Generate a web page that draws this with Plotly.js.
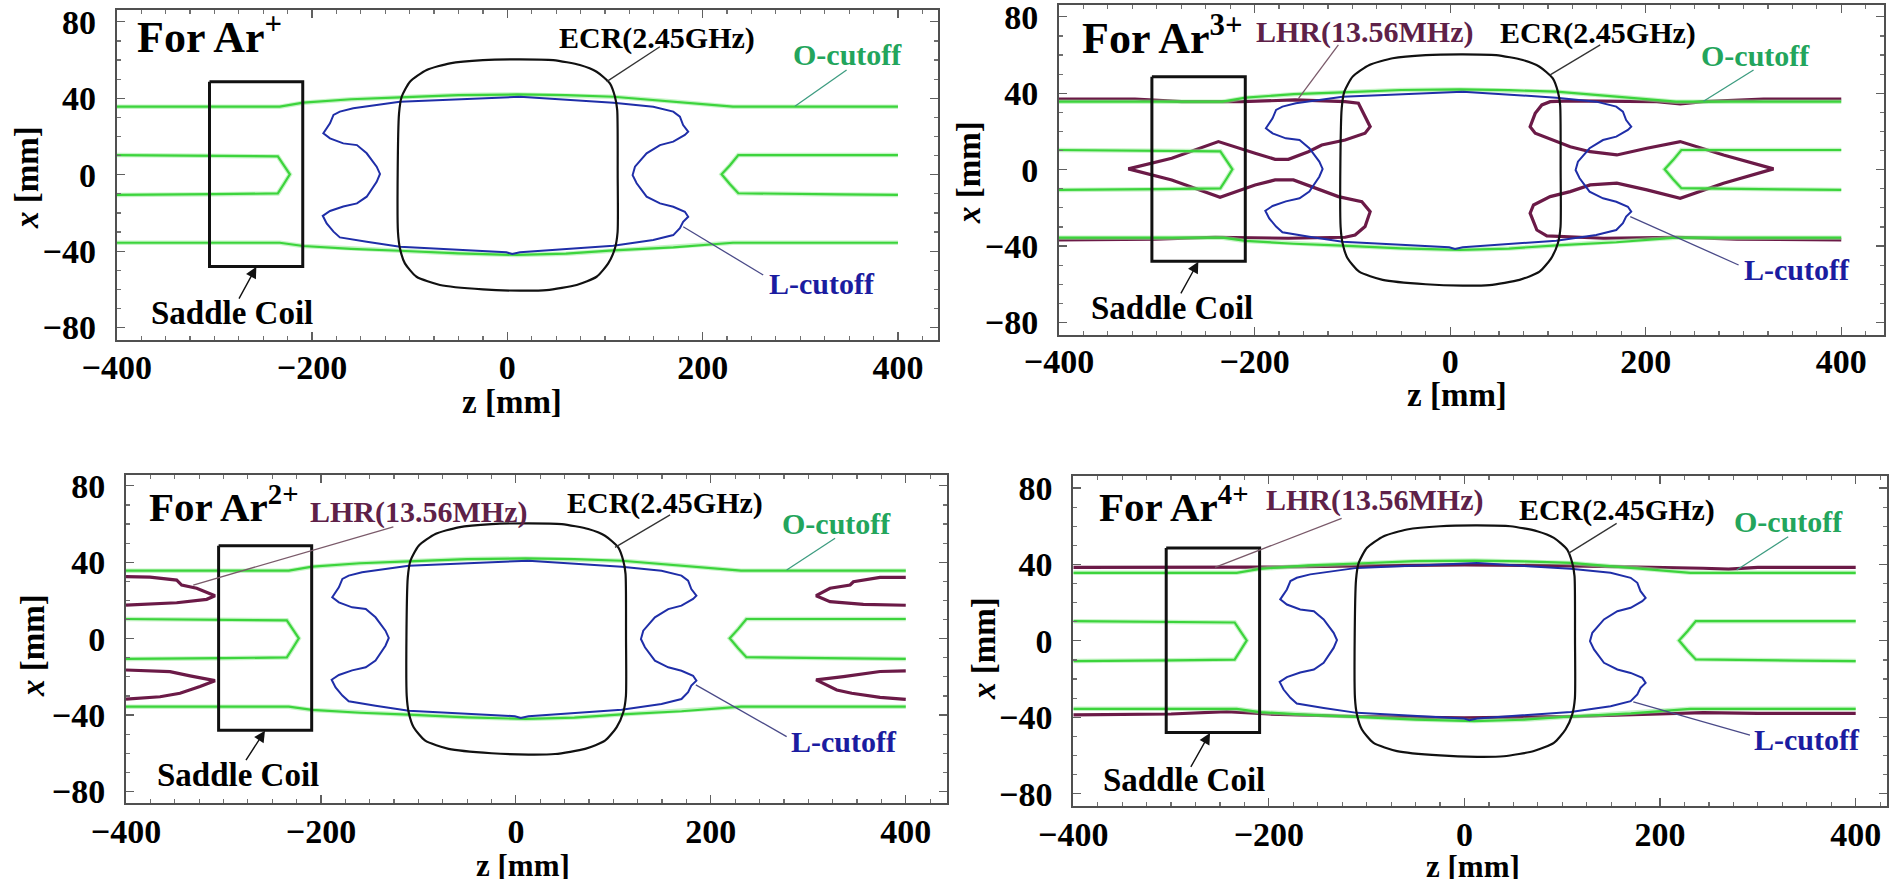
<!DOCTYPE html>
<html>
<head>
<meta charset="utf-8">
<script src="https://cdn.plot.ly/plotly-3.0.1.min.js"></script>
<style>
  html, body { margin: 0; padding: 0; background: #ffffff; }
  #chart { width: 1890px; height: 879px; }
</style>
</head>
<body>
<div id="chart"></div>
<script>
// ---------- tick values ----------
const zTickVals = [-400, -200, 0, 200, 400];
const xTickVals = [-80, -40, 0, 40, 80];

// ---------- ECR (2.45 GHz) resonance contour, z / x in mm ----------
const ecrZ = [12.9, 47, 74.3, 91.4, 105, 110.2, 112.5, 113, 112.9, 110.2, 103.3, 91.4, 71, 40.2, 12.9,
              -25, -69, -93, -104.9, -110, -112, -112.3, -110.9, -108.2, -99.7, -82.6, -58.8, -25, 12.9];
const ecrX = [60.4, 60, 57.4, 53.9, 47.8, 40.8, 33.9, 0, -30, -38.5, -46.4, -53.4, -57.7, -60.4, -60.7,
              -60, -57.7, -53.4, -46.4, -38.5, -30, 0, 32.1, 40.8, 48.7, 54.8, 58.3, 60, 60.4];

// ---------- L-cutoff contour ----------
const lCutZ = [12.9, 108.5, 149.4, 169.9, 176.7, 180, 185.2, 181.8, 169.9, 156.3, 142.6, 130.7, 128.3, 132.4,
               142.6, 156.3, 169.9, 181.8, 185.2, 180, 176.7, 169.9, 149.4, 108.5, 12.9, 5, -1, -110, -144,
               -171.5, -178, -185, -189, -181.6, -168, -154, -144, -133.8, -130.4, -133.8, -144, -154, -168,
               -181.6, -188.4, -181.6, -178, -171.5, -157.8, -110, 12.9];
const lCutX = [40.8, 37.7, 35.6, 33, 30.4, 26, 22.5, 20.8, 17.3, 15.5, 11.2, 4.2, -0.2, -4.5,
               -11.5, -15, -16.8, -19.4, -22, -24.6, -28, -31.6, -34.2, -37.2, -40.6, -41.5, -40.6, -37.7, -35.1,
               -32.8, -29.8, -25.5, -21.5, -19, -16.6, -15, -11.5, -3.7, 0.4, 4.2, 11.2, 15.5, 16.4,
               19, 21.7, 26.9, 31.3, 33, 34.8, 38.2, 40.8];

// ---------- O-cutoff contours ----------
const oCutOuterZ      = [-400, -233, -209, -160, -110, -50, 10, 60, 108.5, 170, 231, 400];
const oCutUpperX      = [35.6, 35.6, 37.7, 39.5, 40.5, 41.7, 42.0, 41.6, 40.8, 38.3, 35.6, 35.6];
const oCutLowerX      = [-35.6, -35.6, -37.3, -38.8, -39.8, -41.2, -42.0, -41.3, -39.6, -38.0, -35.6, -35.6];
const oCutInnerLeftZ  = [-400, -300, -235, -229, -222.7, -229, -235, -300, -400];
const oCutInnerLeftX  = [10.3, 10.0, 9.6, 5, 0.2, -5, -9.8, -10.2, -10.6];
const oCutInnerRightZ = [400, 340, 236.5, 228, 219.4, 228, 236.5, 340, 400];
const oCutInnerRightX = [10.3, 10.3, 10.3, 5, 0.2, -5, -9.7, -10.3, -10.6];

// ---------- saddle coil outline ----------
const coilZ = [-305, -209.5, -209.5, -305, -305];
const coilX = [48.6, 48.6, -48, -48, 48.6];

// ---------- LHR (13.56 MHz) contours ----------
// Ar2+ : four lobes near the ends
const lhrAr2UpLeftZ  = [-400, -375.4, -348, -342.9, -327.5, -308.7, -317.2, -348, -400];
const lhrAr2UpLeftX  = [32.5, 32.2, 30.7, 28.1, 26.4, 22.5, 20.6, 18.8, 17.6];
const lhrAr2LoLeftZ  = [-400, -354.9, -334.3, -308.7, -324.1, -344.6, -365.1, -400];
const lhrAr2LoLeftX  = [-16.4, -17.3, -19.5, -22.0, -25.1, -28.6, -30.4, -31.7];
const lhrAr2UpRightZ = [400, 373.6, 346.3, 342.9, 322.3, 308, 322.3, 356.5, 400];
const lhrAr2UpRightX = [32.1, 32.1, 29.8, 28.1, 26.4, 22.5, 19.4, 18.0, 17.5];
const lhrAr2LoRightZ = [400, 373.6, 336, 308, 329.2, 344.6, 373.6, 400];
const lhrAr2LoRightX = [-16.9, -17.2, -19.9, -21.6, -26.9, -28.6, -30.7, -31.8];

// Ar3+ : two contours, one on each side of the resonance zone
const lhrAr3LeftZ = [-400, -322.3, -274.5, -213.1, -158.6, -107.4, -93.8, -88.7, -81.8, -87, -107.4, -131.3,
                     -145, -165.4, -179, -199.5, -237, -284.7, -329.1, -284.7, -235.3, -199.5, -179, -160.3,
                     -138.1, -114.3, -90.3, -81.8, -87, -97.2, -107.4, -165.4, -240.4, -301.8, -400];
const lhrAr3LeftX = [37.0, 37.0, 35.6, 35.6, 36.5, 35.6, 34.8, 29.5, 22.5, 19.1, 15.5, 12.9,
                     9.4, 5.4, 5.4, 8.6, 14.7, 6.0, 0.4, -5.4, -14.5, -8.0, -5.4, -5.4,
                     -9.7, -14.1, -16.8, -22, -29.8, -34.2, -35.4, -35.9, -35.4, -36.4, -36.8];
const lhrAr3RightZ = [400, 320.5, 259.1, 235.3, 211.4, 122.8, 102.3, 93.8, 87, 81.8, 87, 105.7, 122.8,
                      143.2, 170.5, 201.2, 235.3, 279.6, 330.7, 279.6, 235.3, 201.2, 170.5, 143.2, 122.8,
                      102.3, 85.3, 81.8, 88.7, 98.9, 156.8, 231.9, 293.3, 400];
const lhrAr3RightX = [37.0, 37.0, 35.6, 34.4, 35.6, 36.0, 35.6, 33.9, 29.5, 22.5, 19.1, 15.5, 12.0,
                      9.4, 7.7, 11.2, 14.7, 7.7, 0.4, -7.1, -15.0, -10.6, -7.1, -8.0, -11.5,
                      -14.1, -18.5, -22.8, -31.6, -34.7, -35.9, -35.4, -36.4, -36.8];

// Ar4+ : two nearly flat lines along the edge of the plasma
const lhrAr4UpperZ = [-400, -300, -200, -110, 0, 110, 200, 244, 270, 300, 400];
const lhrAr4UpperX = [38.5, 38.5, 38.6, 39.2, 39.8, 39.2, 38.6, 38.0, 37.6, 38.5, 38.5];
const lhrAr4LowerZ = [-400, -300, -243, -200, -110, 0, 110, 200, 244, 300, 400];
const lhrAr4LowerX = [-38.8, -38.3, -37.1, -38.3, -39.6, -40.3, -39.6, -38.3, -37.6, -38.0, -38.0];

// ---------- panel titles ----------
const panelTitles = ['For Ar<sup>+</sup>', 'For Ar<sup>3+</sup>', 'For Ar<sup>2+</sup>', 'For Ar<sup>4+</sup>'];

// join several pieces into one trace, separated by gaps
function joinPieces(pieces) {
  const out = [];
  pieces.forEach((p, i) => { if (i) out.push(null); out.push(...p); });
  return out;
}

const SERIF = "'Liberation Serif', 'Times New Roman', Times, serif";
const C = {
  o: '#3cd43c', oText: '#23a55c', oLead: '#3d9c80',
  l: '#1f2ea8', lText: '#1b1ca0', lLead: '#4a4a88',
  lhr: '#6b1a47', lhrText: '#5e2148', lhrLead: '#7a5a6a',
  ecr: '#111111', ecrLead: '#333333'
};

const lhrSets = [
  null,
  { z: joinPieces([lhrAr3LeftZ, lhrAr3RightZ]), x: joinPieces([lhrAr3LeftX, lhrAr3RightX]) },
  { z: joinPieces([lhrAr2UpLeftZ, lhrAr2LoLeftZ, lhrAr2UpRightZ, lhrAr2LoRightZ]),
    x: joinPieces([lhrAr2UpLeftX, lhrAr2LoLeftX, lhrAr2UpRightX, lhrAr2LoRightX]) },
  { z: joinPieces([lhrAr4UpperZ, lhrAr4LowerZ]), x: joinPieces([lhrAr4UpperX, lhrAr4LowerX]) }
];

// subplot frames (paper fractions), axis ranges, label offsets and title sizes
const frames = [
  { xd: [0.06175, 0.49630], yd: [0.61320, 0.98862], xr: [-400, 441], yr: [-86.5, 86.2], zStand: -4, titleSize: 44, zTitleSize: 33 },
  { xd: [0.56032, 0.99698], yd: [0.61945, 0.99431], xr: [-400, 444], yr: [-86.3, 86.2], zStand: -4, titleSize: 44, zTitleSize: 33 },
  { xd: [0.06667, 0.50090], yd: [0.08612, 0.45961], xr: [-400, 442], yr: [-86.2, 85.7], zStand: -3, titleSize: 41, zTitleSize: 31 },
  { xd: [0.56788, 0.99841], yd: [0.08339, 0.45848], xr: [-400, 432], yr: [-86.3, 86.3], zStand: -3, titleSize: 41, zTitleSize: 31 }
];

// label placement inside each panel (data coordinates)
const labelPos = [
  { title: [-381, 73.5], ecr: [152.9, 71.8], ecrL: [156.2, 67, 101.7, 48.7],
    o: [348.5, 62.7], oL: [347.4, 54.8, 294.5, 35.8], l: [321.8, -56.9], lL: [262, -52.5, 180.1, -27.2],
    coil: [-282, -72.6], coilA: [-275.6, -65.6, -257, -48.2], lhr: null, lhrL: null },
  { title: [-378.5, 70], ecr: [151.7, 71.4], ecrL: [153.5, 65.3, 102.3, 49.6],
    o: [312, 60], oL: [310.3, 52.2, 259.1, 35.8], l: [354.6, -52.5], lL: [295, -49.9, 184.2, -24.6],
    coil: [-284.4, -72.6], coilA: [-276.2, -65.6, -257.5, -48.2], lhr: [-88, 72.3], lhrL: [-114.3, 65.3, -155.2, 37.2] },
  { title: [-378.8, 70.5], ecr: [153, 70.9], ecrL: [158.2, 64.8, 101.7, 47.8],
    o: [329.2, 60.4], oL: [327.5, 52.6, 277.8, 36.0], l: [337, -53.9], lL: [277.8, -51.3, 184.6, -24.2],
    coil: [-284.8, -71.4], coilA: [-277.9, -64.4, -257.4, -48.2], lhr: [-100, 66.5], lhrL: [-125.7, 58.6, -331, 28.1] },
  { title: [-376, 71.6], ecr: [156.4, 68.5], ecrL: [155.6, 61.5, 106.2, 45.8],
    o: [331, 62.4], oL: [331, 54.5, 278.3, 37.1], l: [350.7, -51.9], lL: [291.9, -49.3, 172.6, -31.9],
    coil: [-286.6, -72.9], coilA: [-280.7, -66.8, -260.2, -48.2], lhr: [-92.5, 73.7], lhrL: [-125.6, 64.1, -255.1, 38.5] }
];

// axis-title positions (paper fractions)
const zTitlePos = [[0.2709, 0.5427], [0.7709, 0.5506], [0.2767, 0.0150], [0.7794, 0.0140]];
const xTitlePos = [[0.01429, 0.7975], [0.5127, 0.8032], [0.01746, 0.2662], [0.5206, 0.2628]];

const traces = [];
const shapes = [];
const annotations = [];
const layout = {
  width: 1890, height: 879,
  margin: { l: 0, r: 0, t: 0, b: 0 },
  paper_bgcolor: '#ffffff', plot_bgcolor: '#ffffff',
  showlegend: false,
  font: { family: SERIF, color: '#000' }
};

const tickFont = { family: SERIF, size: 34, color: '#000', weight: 'bold' };

frames.forEach((f, i) => {
  const n = i === 0 ? '' : String(i + 1);
  const xa = 'x' + n, ya = 'y' + n;
  const common = {
    showline: true, mirror: 'allticks', linecolor: '#505050', linewidth: 2,
    ticks: 'inside', ticklen: 8, tickwidth: 1.2, tickcolor: '#606060',
    showgrid: false, zeroline: false, tickfont: tickFont, fixedrange: true,
    ticklabeloverflow: 'allow'
  };
  layout['xaxis' + n] = Object.assign({}, common, {
    domain: f.xd, range: f.xr, anchor: ya, tickmode: 'array', tickvals: zTickVals,
    ticklabelstandoff: f.zStand,
    minor: { dtick: 25, ticks: 'inside', ticklen: 4, tickcolor: '#707070', showgrid: false }
  });
  layout['yaxis' + n] = Object.assign({}, common, {
    domain: f.yd, range: f.yr, anchor: xa, tickmode: 'array', tickvals: xTickVals,
    ticklabelstandoff: 12,
    minor: { dtick: 10, ticks: 'inside', ticklen: 4, tickcolor: '#707070', showgrid: false }
  });

  // LHR contour (not present for Ar+)
  if (lhrSets[i]) {
    traces.push({ type: 'scatter', mode: 'lines', xaxis: xa, yaxis: ya, hoverinfo: 'skip',
      x: lhrSets[i].z, y: lhrSets[i].x, connectgaps: false,
      line: { color: C.lhr, width: 3.2 } });
  }
  // O-cutoff: soft halo under a bright core
  const oZ = joinPieces([oCutOuterZ, oCutOuterZ, oCutInnerLeftZ, oCutInnerRightZ]);
  const oX = joinPieces([oCutUpperX, oCutLowerX, oCutInnerLeftX, oCutInnerRightX]);
  traces.push({ type: 'scatter', mode: 'lines', xaxis: xa, yaxis: ya, hoverinfo: 'skip',
    x: oZ, y: oX, connectgaps: false, line: { color: 'rgba(150,235,150,0.55)', width: 4.5 } });
  traces.push({ type: 'scatter', mode: 'lines', xaxis: xa, yaxis: ya, hoverinfo: 'skip',
    x: oZ, y: oX, connectgaps: false, line: { color: C.o, width: 2.2 } });
  // L-cutoff
  traces.push({ type: 'scatter', mode: 'lines', xaxis: xa, yaxis: ya, hoverinfo: 'skip',
    x: lCutZ, y: lCutX, line: { color: C.l, width: 2 } });
  // ECR
  traces.push({ type: 'scatter', mode: 'lines', xaxis: xa, yaxis: ya, hoverinfo: 'skip',
    x: ecrZ, y: ecrX, line: { color: C.ecr, width: 2.2, shape: 'spline', smoothing: 0.6 } });
  // saddle coil
  traces.push({ type: 'scatter', mode: 'lines', xaxis: xa, yaxis: ya, hoverinfo: 'skip',
    x: coilZ, y: coilX, line: { color: '#111', width: 3 } });

  const p = labelPos[i];
  const lead = (c, color) => shapes.push({ type: 'line', xref: xa, yref: ya,
    x0: c[0], y0: c[1], x1: c[2], y1: c[3], line: { color: color, width: 1.3 } });
  const label = (pos, text, color, size) => annotations.push({ xref: xa, yref: ya, x: pos[0], y: pos[1],
    text: text, showarrow: false, xanchor: 'center', yanchor: 'middle',
    font: { family: SERIF, size: size, color: color, weight: 'bold' } });

  lead(p.ecrL, C.ecrLead);
  lead(p.oL, C.oLead);
  lead(p.lL, C.lLead);
  if (p.lhrL) lead(p.lhrL, C.lhrLead);

  label(p.ecr, 'ECR(2.45GHz)', '#000', 30);
  label(p.o, 'O-cutoff', C.oText, 30);
  label(p.l, 'L-cutoff', C.lText, 30);
  if (p.lhr) label(p.lhr, 'LHR(13.56MHz)', C.lhrText, 30);
  label(p.coil, 'Saddle Coil', '#000', 33);

  annotations.push({ xref: xa, yref: ya, x: p.title[0], y: p.title[1], text: panelTitles[i],
    showarrow: false, xanchor: 'left', yanchor: 'middle',
    font: { family: SERIF, size: f.titleSize, color: '#000', weight: 'bold' } });

  // arrow from the coil label to the coil
  annotations.push({ xref: xa, yref: ya, axref: xa, ayref: ya,
    x: p.coilA[2], y: p.coilA[3], ax: p.coilA[0], ay: p.coilA[1], text: '',
    showarrow: true, arrowhead: 2, arrowsize: 1.6, arrowwidth: 1.4, arrowcolor: '#111' });

  // axis titles
  annotations.push({ xref: 'paper', yref: 'paper', x: zTitlePos[i][0], y: zTitlePos[i][1],
    text: 'z [mm]', showarrow: false, xanchor: 'center', yanchor: 'middle',
    font: { family: SERIF, size: f.zTitleSize, color: '#000', weight: 'bold' } });
  annotations.push({ xref: 'paper', yref: 'paper', x: xTitlePos[i][0], y: xTitlePos[i][1],
    text: '<i>x</i> [mm]', showarrow: false, xanchor: 'center', yanchor: 'middle', textangle: -90,
    font: { family: SERIF, size: 33, color: '#000', weight: 'bold' } });
});

layout.shapes = shapes;
layout.annotations = annotations;

Plotly.newPlot('chart', traces, layout, { staticPlot: true, displayModeBar: false });
</script>
</body>
</html>
